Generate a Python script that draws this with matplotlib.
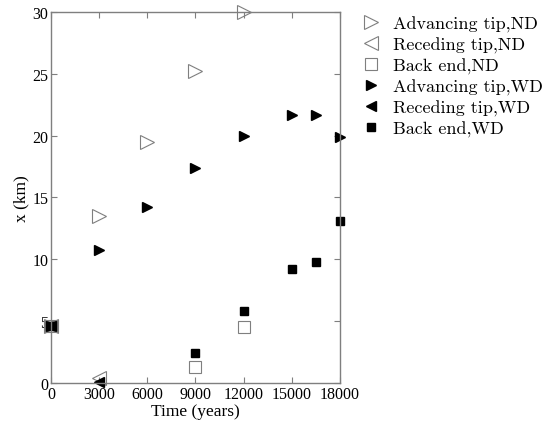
import matplotlib
matplotlib.use("Agg")
import matplotlib.pyplot as plt

adv_nd_t = [0, 3000, 6000, 9000, 12000]
adv_nd_x = [4.6, 13.5, 19.5, 25.2, 30.0]
rec_nd_t = [0, 3000]
rec_nd_x = [4.6, 0.4]
back_nd_t = [0, 9000, 12000]
back_nd_x = [4.6, 1.3, 4.5]
adv_wd_t = [0, 3000, 6000, 9000, 12000, 15000, 16500, 18000]
adv_wd_x = [4.6, 10.75, 14.2, 17.4, 20.0, 21.7, 21.7, 19.9]
rec_wd_t = [0, 3000]
rec_wd_x = [4.6, 0.1]
back_wd_t = [0, 9000, 12000, 15000, 16500, 18000]
back_wd_x = [4.6, 2.4, 5.8, 9.2, 9.8, 13.1]

labels = ["Advancing tip,ND", "Receding tip,ND", "Back end,ND",
          "Advancing tip,WD", "Receding tip,WD", "Back end,WD"]
xticks = [0, 3000, 6000, 9000, 12000, 15000, 18000]
yticks = [0, 5, 10, 15, 20, 25, 30]

fig = plt.figure(figsize=(5.47, 4.27), dpi=100)
ax = fig.add_axes([0.0932, 0.1007, 0.5284, 0.8689])

gray = "#7f7f7f"
ax.plot(adv_nd_t, adv_nd_x, ls="none", marker=">", ms=10, mfc="none", mec=gray, mew=0.8, clip_on=False, label=labels[0])
ax.plot(rec_nd_t, rec_nd_x, ls="none", marker="<", ms=10, mfc="none", mec=gray, mew=0.8, clip_on=False, label=labels[1])
ax.plot(back_nd_t, back_nd_x, ls="none", marker="s", ms=8.5, mfc="none", mec=gray, mew=0.8, clip_on=False, label=labels[2])
ax.plot(adv_wd_t, adv_wd_x, ls="none", marker=">", ms=6.5, mfc="black", mec="black", clip_on=False, label=labels[3])
ax.plot(rec_wd_t, rec_wd_x, ls="none", marker="<", ms=6.5, mfc="black", mec="black", clip_on=False, label=labels[4])
ax.plot(back_wd_t, back_wd_x, ls="none", marker="s", ms=5.5, mfc="black", mec="black", clip_on=False, label=labels[5])

ax.set_xlim(0, 18000)
ax.set_ylim(0, 30)
ax.set_xticks(xticks)
ax.set_yticks(yticks)
ax.set_xticklabels([str(v) for v in xticks], family="Liberation Serif", fontsize=11.5)
ax.set_yticklabels([str(v) for v in yticks], family="Liberation Serif", fontsize=11.5)
ax.tick_params(direction="in", top=True, right=True, length=4, width=0.8, color=gray, pad=2)
for s in ax.spines.values():
    s.set_color(gray)
    s.set_linewidth(1.0)

ax.set_xlabel("Time (years)", family="Liberation Serif", fontsize=12.5, labelpad=1)
ax.set_ylabel("x (km)", family="Liberation Serif", fontsize=12.5, labelpad=2)

leg = ax.legend(loc="upper left", bbox_to_anchor=(1.052, 1.01), frameon=False,
                prop={"family": "cmr10", "size": 13.0}, handletextpad=0.7,
                labelspacing=0.26, handlelength=1.0, borderaxespad=0)

fig.savefig("out.png", dpi=100)
